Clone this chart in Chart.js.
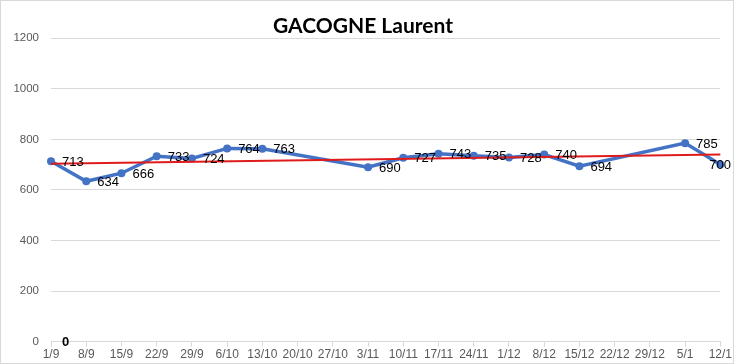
<!DOCTYPE html>
<html>
<head>
<meta charset="utf-8">
<script src="https://cdn.jsdelivr.net/npm/chart.js@4"></script>
<style>
  html, body { margin: 0; padding: 0; background: #fff; }
  #wrap { width: 732px; height: 362px; border: 1px solid #d9d9d9; }
</style>
</head>
<body>
<div id="wrap"><canvas id="chart" width="732" height="362"></canvas></div>
<script>
// --- Données ---
const labels = ['1/9', '8/9', '15/9', '22/9', '29/9', '6/10', '13/10', '20/10', '27/10', '3/11',
  '10/11', '17/11', '24/11', '1/12', '8/12', '15/12', '22/12', '29/12', '5/1', '12/1'];
const scores = [713, 634, 666, 733, 724, 764, 763, null, null, 690,
  727, 743, 735, 728, 740, 694, null, null, 785, 700];
const zeroSerie = [0, null, null, null, null, null, null, null, null, null,
  null, null, null, null, null, null, null, null, null, null];
const trend = [703, null, null, null, null, null, null, null, null, null,
  null, null, null, null, null, null, null, null, null, 740];
const yTicks = [0, 200, 400, 600, 800, 1000, 1200];

// --- Étiquettes de données (à droite des points) ---
const dataLabels = {
  id: 'dataLabels',
  afterDatasetsDraw(chart) {
    const ctx = chart.ctx;
    chart.data.datasets.forEach((ds, i) => {
      if (!ds.showLabels) return;
      const meta = chart.getDatasetMeta(i);
      ctx.save();
      ctx.font = ds.labelFont;
      ctx.fillStyle = '#000';
      ctx.textAlign = 'left';
      ctx.textBaseline = 'middle';
      meta.data.forEach((pt, j) => {
        const v = ds.data[j];
        if (v === null) return;
        const txt = String(v);
        // si l'étiquette déborde, on la ramène dans le cadre
        const x = Math.min(pt.x + 11, chart.width - 2 - ctx.measureText(txt).width);
        ctx.fillText(txt, x, pt.y + 1);
      });
      ctx.restore();
    });
  }
};

new Chart(document.getElementById('chart'), {
  type: 'line',
  data: {
    labels,
    datasets: [
      {
        data: trend,
        borderColor: '#e01b1b',
        borderWidth: 2,
        pointRadius: 0,
        spanGaps: true,
        order: 1
      },
      {
        data: scores,
        borderColor: '#4472c4',
        backgroundColor: '#4472c4',
        borderWidth: 3.5,
        pointRadius: 4,
        pointBorderWidth: 0,
        spanGaps: true,
        showLabels: true,
        labelFont: '13px "Liberation Sans"',
        order: 2
      },
      {
        data: zeroSerie,
        borderWidth: 0,
        pointRadius: 0,
        showLabels: true,
        labelFont: 'bold 13px "Liberation Sans"',
        order: 3
      }
    ]
  },
  options: {
    responsive: false,
    animation: false,
    layout: { padding: { left: 4, right: 12, top: 0, bottom: 0 } },
    plugins: {
      legend: { display: false },
      tooltip: { enabled: false },
      title: {
        display: true,
        text: 'GACOGNE Laurent',
        color: '#000',
        font: { family: 'Lato', size: 21, weight: 'bold' },
        padding: { top: 13, bottom: -1 }
      }
    },
    scales: {
      x: {
        offset: false,
        grid: { display: true, drawOnChartArea: false, tickLength: 5, color: '#d9d9d9' },
        border: { color: '#d9d9d9' },
        ticks: {
          color: '#595959',
          font: { family: 'Liberation Sans', size: 12 },
          maxRotation: 0,
          autoSkip: false,
          padding: 1
        }
      },
      y: {
        min: 0,
        max: 1200,
        afterBuildTicks: scale => { scale.ticks = yTicks.map(v => ({ value: v })); },
        afterFit: scale => { scale.width = 46; },
        grid: { color: '#d9d9d9', drawTicks: false },
        border: { display: false },
        ticks: {
          color: '#595959',
          font: { family: 'Liberation Sans', size: 11.5 },
          padding: 12,
          callback: v => String(v)
        }
      }
    }
  },
  plugins: [dataLabels]
});
</script>
</body>
</html>
